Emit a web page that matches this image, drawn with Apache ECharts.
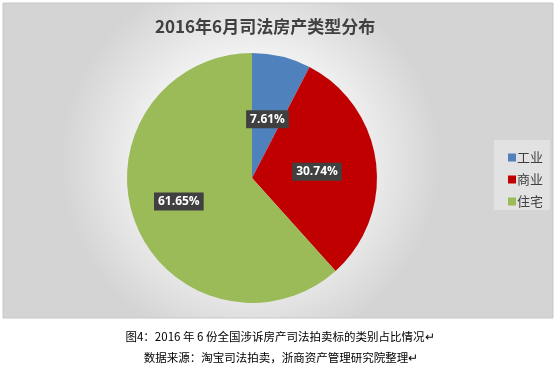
<!DOCTYPE html>
<html><head><meta charset="utf-8">
<script src="https://cdn.jsdelivr.net/npm/echarts@6/dist/echarts.min.js"></script>
<style>html,body{margin:0;padding:0;background:#fff;}#c{width:557px;height:368px;}</style>
</head><body><div id="c"></div>
<script>
const categories = ['工业', '商业', '住宅'];
const values = [7.61, 30.74, 61.65];
const colors = ['#4f81bd', '#c00000', '#9bbb59'];
const title = '2016年6月司法房产类型分布';
const caption1 = '图4：2016 年 6 份全国涉诉房产司法拍卖标的类别占比情况↵';
const caption2 = '数据来源：淘宝司法拍卖，浙商资产管理研究院整理↵';

const labelOffsets = [[0, 5], [0, 2], [-12, 0]];

const chart = echarts.init(document.getElementById('c'));
chart.setOption({
  animation: false,
  backgroundColor: '#fff',
  graphic: [
    {type: 'rect', shape: {x: 3, y: 3, width: 550, height: 315}, z: -10,
     style: {fill: {type: 'radial', x: 0.45, y: 0.5, r: 0.6, colorStops: [{offset: 0, color: '#ffffff'}, {offset: 0.55, color: '#f2f2f2'}, {offset: 1, color: '#d4d4d4'}]}, stroke: '#c8c8c8', lineWidth: 1}},
    {type: 'rect', shape: {x: 494, y: 140, width: 56, height: 70}, z: -5, style: {fill: 'rgba(235,235,235,0.6)'}},
    {type: 'text', x: 280, y: 331, style: {text: caption1, align: 'center', font: '11.5px "Noto Sans CJK SC"', fill: '#000'}},
    {type: 'text', x: 281, y: 352, style: {text: caption2, align: 'center', font: '11.5px "Noto Sans CJK SC"', fill: '#000'}}
  ],
  title: {text: title, left: 150, top: 13,
    textStyle: {fontSize: 17, fontWeight: 'bold', color: '#404040', fontFamily: '"Noto Sans CJK SC"'}},
  legend: {orient: 'vertical', left: 503, top: 146, itemWidth: 8, itemHeight: 8, itemGap: 9,
    icon: 'rect', data: categories,
    textStyle: {fontSize: 13, color: '#404040', fontFamily: '"Noto Sans CJK SC"', padding: [0,0,0,-4]}},
  series: [{
    type: 'pie', center: [252, 178], radius: [0, 125], startAngle: 90, clockwise: true,
    data: categories.map((c, i) => ({name: c, value: values[i], itemStyle: {color: colors[i]},
      label: {offset: labelOffsets[i]}})),
    itemStyle: {borderWidth: 0},
    label: {position: 'inside', formatter: p => p.value.toFixed(2) + '%',
      color: '#fff', fontWeight: 'bold', fontSize: 12, fontFamily: '"Open Sans"',
      backgroundColor: '#404040', padding: [3, 4, 3, 4]},
    labelLine: {show: false}
  }]
});
</script></body></html>
